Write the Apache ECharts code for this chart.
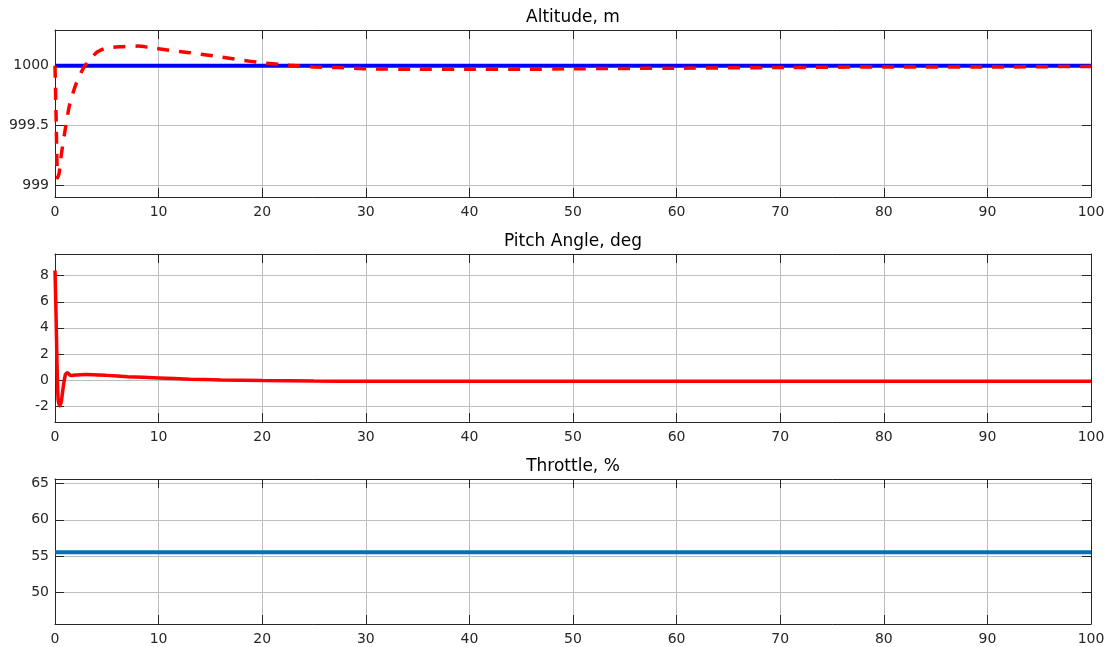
<!DOCTYPE html>
<html>
<head>
<meta charset="utf-8">
<script src="https://cdn.jsdelivr.net/npm/echarts@6/dist/echarts.min.js"></script>
<style>
html,body{margin:0;padding:0;background:#fff;}
#c{width:1111px;height:647px;}
</style>
</head>
<body>
<div id="c"></div>
<script>
// ---- data ----
const titles = ['Altitude, m', 'Pitch Angle, deg', 'Throttle, %'];
const xTicks = [0, 10, 20, 30, 40, 50, 60, 70, 80, 90, 100];
const altTicks = [999, 999.5, 1000];
const pitchTicks = [-2, 0, 2, 4, 6, 8];
const thrTicks = [50, 55, 60, 65];

const refTime = [0, 100];
const altRef = [1000, 1000];

const altTime = [0, 0.1, 0.25, 0.4, 0.6, 0.9, 1.4, 2, 2.8, 4, 5, 6.5, 8, 9, 11, 13, 15.5, 17.8, 20, 22.6, 25, 27.3, 30, 35, 40, 45, 50, 60, 70, 80, 90, 100];
const altAct  = [1000, 999.6, 999.06, 999.1, 999.25, 999.42, 999.67, 999.84, 999.99, 1000.11, 1000.15, 1000.16, 1000.165, 1000.155, 1000.13, 1000.11, 1000.08, 1000.05, 1000.025, 1000.005, 999.99, 999.985, 999.975, 999.97, 999.97, 999.97, 999.975, 999.98, 999.985, 999.99, 999.99, 999.995];

const pitchTime = [0, 0.1, 0.2, 0.3, 0.45, 0.6, 0.8, 1.0, 1.2, 1.5, 2, 3, 5, 7, 10, 13, 16, 20, 25, 30, 50, 100];
const pitch     = [8.4, 5, 1, -1.5, -2.0, -1.7, -0.5, 0.4, 0.55, 0.35, 0.38, 0.42, 0.35, 0.25, 0.15, 0.06, 0.0, -0.04, -0.08, -0.1, -0.1, -0.1];

const thrTime = [0, 100];
const throttle = [55.55, 55.55];

// ---- layout ----
const L = 55, R = 20;
const grids = [
  {top: 30, height: 167, min: 998.9, max: 1000.3, ticks: altTicks},
  {top: 254, height: 168, min: -3.23, max: 9.67, ticks: pitchTicks},
  {top: 479, height: 145, min: 45.7, max: 65.6, ticks: thrTicks}
];
const axisColor = '#262626';
const gridColor = '#bdbdbd';
const font = '"DejaVu Sans", Verdana, sans-serif';

const pairs = (xs, ys) => xs.map((x, i) => [x, ys[i]]);

const option = {
  animation: false,
  backgroundColor: '#fff',
  grid: grids.map(g => ({left: L, right: R, top: g.top, height: g.height, containLabel: false})),
  xAxis: [],
  yAxis: [],
  series: [],
  graphic: []
};

grids.forEach((g, i) => {
  option.xAxis.push({
    type: 'value', gridIndex: i, min: 0, max: 100, interval: 10, position: 'bottom',
    axisLine: {show: true, onZero: false, lineStyle: {color: axisColor, width: 1}},
    axisTick: {show: true, inside: true, length: 9, lineStyle: {color: axisColor}},
    axisLabel: {show: true, color: axisColor, fontSize: 14, fontFamily: font, margin: 8, formatter: v => String(v)},
    splitLine: {show: true, lineStyle: {color: gridColor, width: 1}}
  });
  option.xAxis.push({
    type: 'value', gridIndex: i, min: 0, max: 100, interval: 10, position: 'top',
    axisLine: {show: true, onZero: false, lineStyle: {color: axisColor, width: 1}},
    axisTick: {show: true, inside: true, length: 9, lineStyle: {color: axisColor}},
    axisLabel: {show: false},
    splitLine: {show: false}
  });
  option.yAxis.push({
    type: 'value', gridIndex: i, min: g.min, max: g.max, position: 'left',
    axisLine: {show: true, onZero: false, lineStyle: {color: axisColor, width: 1}},
    axisTick: {show: true, inside: true, length: 9, customValues: g.ticks, lineStyle: {color: axisColor}},
    axisLabel: {show: true, color: axisColor, fontSize: 14, fontFamily: font, margin: 6, customValues: g.ticks, formatter: v => String(v)},
    splitLine: {show: true, lineStyle: {color: gridColor, width: 1}}
  });
  option.yAxis.push({
    type: 'value', gridIndex: i, min: g.min, max: g.max, position: 'right',
    axisLine: {show: true, onZero: false, lineStyle: {color: axisColor, width: 1}},
    axisTick: {show: true, inside: true, length: 9, customValues: g.ticks, lineStyle: {color: axisColor}},
    axisLabel: {show: false, customValues: g.ticks},
    splitLine: {show: false}
  });
  option.graphic.push({
    type: 'text', x: L + (1111 - L - R) / 2, y: g.top - 12,
    style: {text: titles[i], fill: '#000', font: '17px ' + font, textAlign: 'center', textVerticalAlign: 'middle'}
  });
});

option.series.push({
  type: 'line', xAxisIndex: 0, yAxisIndex: 0, data: pairs(refTime, altRef),
  showSymbol: false, lineStyle: {color: '#0000ff', width: 4}
});
option.series.push({
  type: 'line', xAxisIndex: 0, yAxisIndex: 0, data: pairs(altTime, altAct),
  showSymbol: false, smooth: 0.2, lineStyle: {color: '#ff0000', width: 3.5, type: [12, 10]}
});
option.series.push({
  type: 'line', xAxisIndex: 2, yAxisIndex: 2, data: pairs(pitchTime, pitch),
  showSymbol: false, smooth: 0.2, lineStyle: {color: '#ff0000', width: 3.5}
});
option.series.push({
  type: 'line', xAxisIndex: 4, yAxisIndex: 4, data: pairs(thrTime, throttle),
  showSymbol: false, lineStyle: {color: '#0072bd', width: 4}
});

const chart = echarts.init(document.getElementById('c'), null, {renderer: 'canvas'});
chart.setOption(option);
</script>
</body>
</html>
